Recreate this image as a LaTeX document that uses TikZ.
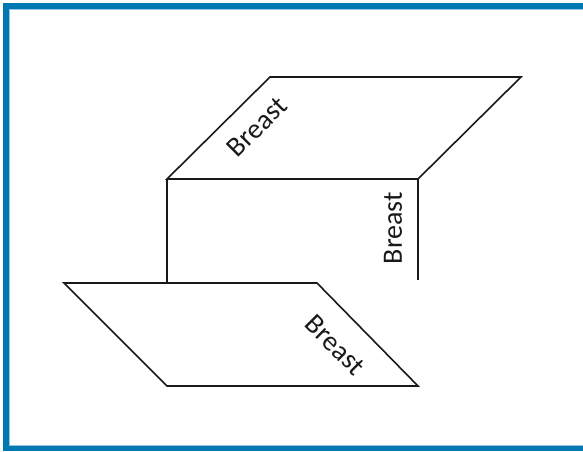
\documentclass[tikz,border=0pt]{standalone}
\usepackage{fontspec}
\setmainfont{Carlito}
\definecolor{frameblue}{RGB}{0,120,178}
\definecolor{framelight}{RGB}{150,200,230}
\tikzset{
  edge/.style={draw=black!90, line width=1.6pt, line join=miter},
  framebar/.style={fill=frameblue},
  label/.style={inner sep=0pt, font=\fontsize{28}{32}\selectfont, text=black!90}
}
\begin{document}
\begin{tikzpicture}[x=1pt, y=-1pt]
  \fill[white] (0,0) rectangle (583,451);
  \useasboundingbox (0,0) rectangle (583,451);
  % frame: top, left and bottom bars only, open to the right
  \fill[framebar] (3,3) rectangle (583,9);
  \fill[framebar] (3,3) rectangle (9,451);
  \fill[framebar] (3,446) rectangle (583,451);
  \draw[framelight, line width=0.8pt] (583,9.5) -- (9.5,9.5) -- (9.5,445.5) -- (583,445.5);

  % upper plane
  \coordinate (ua) at (167,179);
  \coordinate (ub) at (418,179);
  \coordinate (uc) at (521,77);
  \coordinate (ud) at (270,77);
  % lower plane
  \coordinate (la) at (64,283);
  \coordinate (lb) at (317,283);
  \coordinate (lc) at (418,386);
  \coordinate (ld) at (167,386);
  % ends of the vertical walls
  \coordinate (wl) at (167,283);
  \coordinate (wr) at (418,280);

  \draw[edge] (ua) -- (ub) -- (uc) -- (ud) -- cycle;
  \draw[edge] (la) -- (lb) -- (lc) -- (ld) -- cycle;
  \draw[edge] (ua) -- (wl);
  \draw[edge] (ub) -- (wr);

  \node[label, rotate=45]  (t1) at (257,127) {Breast};
  \node[label, rotate=90]  (t2) at (393,228) {Breast};
  \node[label, rotate=-45] (t3) at (335,345) {Breast};
\end{tikzpicture}
\end{document}
